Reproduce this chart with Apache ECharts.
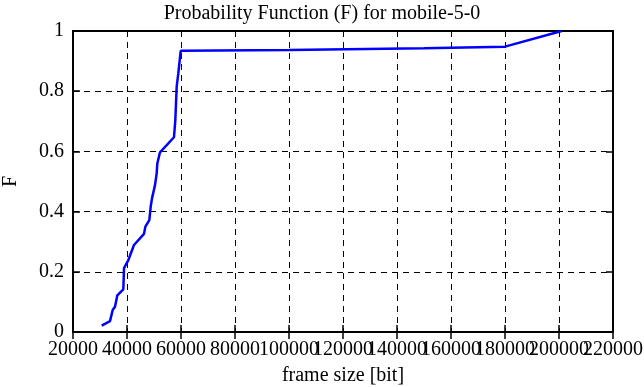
<!DOCTYPE html>
<html>
<head>
<meta charset="utf-8">
<script src="https://cdn.jsdelivr.net/npm/echarts@6/dist/echarts.min.js"></script>
<style>html,body{margin:0;padding:0;background:#fff}#c{width:644px;height:387px}</style>
</head>
<body>
<div id="c"></div>
<script>
const frameSize = [30630, 33700, 34700, 35550, 36420, 38640, 38890, 40500, 42590, 46300, 46800, 48270, 48770, 49260, 50370, 50990, 51230, 52220, 57400, 57900, 58400, 59000, 59890, 100000, 150000, 180000, 201000];
const probF = [0.021, 0.036, 0.073, 0.084, 0.122, 0.142, 0.212, 0.239, 0.289, 0.326, 0.35, 0.372, 0.416, 0.444, 0.488, 0.527, 0.56, 0.597, 0.647, 0.704, 0.815, 0.859, 0.934, 0.937, 0.943, 0.948, 1.0];
const xTicks = {min: 20000, max: 220000, interval: 20000};
const yTicks = {min: 0, max: 1, interval: 0.2};

const font = '"Liberation Serif", "DejaVu Serif", serif';
const fs = 20;
const chart = echarts.init(document.getElementById('c'));
const gridLine = {show: true, lineStyle: {color: '#000', type: [6, 5], width: 1}};
const tick = {show: true, inside: true, length: 7, lineStyle: {color: '#000', width: 1.5}};
chart.setOption({
  animation: false,
  title: {text: 'Probability Function (F) for mobile-5-0', left: 'center', top: -1,
    textStyle: {fontFamily: font, fontSize: fs, fontWeight: 'normal', color: '#000'}},
  grid: {left: 73, right: 31, top: 31, bottom: 55, outerBoundsMode: 'none', containLabel: false,
    show: true, borderColor: '#000', borderWidth: 2},
  xAxis: [{
    type: 'value', min: xTicks.min, max: xTicks.max, interval: xTicks.interval,
    name: 'frame size [bit]', nameLocation: 'middle', nameGap: 34,
    nameTextStyle: {fontFamily: font, fontSize: fs, color: '#000'},
    axisLine: {show: true, lineStyle: {color: '#000', width: 2}},
    axisTick: tick,
    axisLabel: {fontFamily: font, fontSize: fs, color: '#000', margin: 8, showMinLabel: true, showMaxLabel: false, hideOverlap: false,
      formatter: v => String(v)},
    splitLine: gridLine
  }, {
    type: 'value', position: 'top', min: xTicks.min, max: xTicks.max, interval: xTicks.interval,
    axisLine: {show: false}, axisTick: tick,
    axisLabel: {show: false}, splitLine: {show: false}
  }, {
    type: 'value', position: 'bottom', min: xTicks.min, max: xTicks.max, interval: xTicks.interval,
    axisLine: {show: false}, axisTick: {show: false}, splitLine: {show: false},
    axisLabel: {fontFamily: font, fontSize: fs, color: '#000', margin: 8, showMinLabel: false, showMaxLabel: true, hideOverlap: false,
      formatter: v => (v === xTicks.max ? String(v) : '')}
  }],
  yAxis: [{
    type: 'value', min: yTicks.min, max: yTicks.max, interval: yTicks.interval,
    name: 'F', nameLocation: 'middle', nameGap: 52, nameRotate: 90,
    nameTextStyle: {fontFamily: font, fontSize: fs, color: '#000'},
    axisLine: {show: true, lineStyle: {color: '#000', width: 2}},
    axisTick: tick,
    axisLabel: {fontFamily: font, fontSize: fs, color: '#000', margin: 9, formatter: v => String(Math.round(v * 10) / 10)},
    splitLine: gridLine
  }, {
    type: 'value', position: 'right', min: yTicks.min, max: yTicks.max, interval: yTicks.interval,
    axisLine: {show: false}, axisTick: tick,
    axisLabel: {show: false}, splitLine: {show: false}
  }],
  series: [{
    type: 'line', xAxisIndex: 0, yAxisIndex: 0,
    data: frameSize.map((x, i) => [x, probF[i]]),
    showSymbol: false, symbol: 'none',
    lineStyle: {color: '#0000ff', width: 2.5},
    itemStyle: {color: '#0000ff'}
  }]
});
</script>
</body>
</html>
